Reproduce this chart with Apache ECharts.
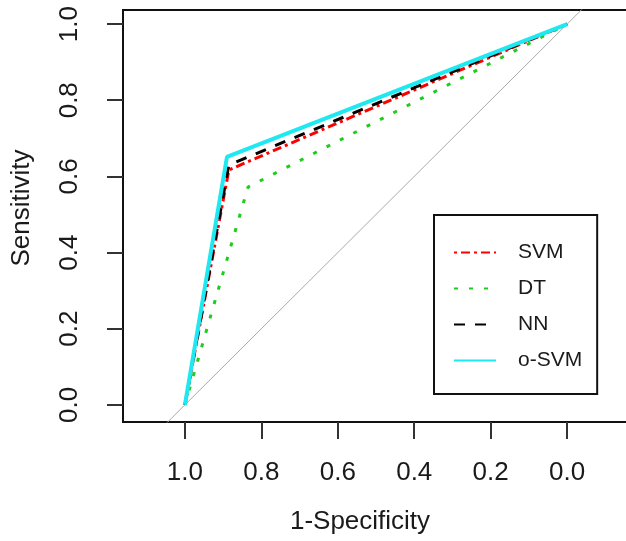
<!DOCTYPE html>
<html>
<head>
<meta charset="utf-8">
<script src="https://cdn.jsdelivr.net/npm/echarts@6/dist/echarts.min.js"></script>
<style>
html,body{margin:0;padding:0;background:#fff;}
#chart{width:626px;height:541px;}
</style>
</head>
<body>
<div id="chart"></div>
<script>
// Tick values
const tickValues = [0, 0.2, 0.4, 0.6, 0.8, 1.0];

// ROC curves: x = specificity (axis reversed), y = sensitivity
const svmSpec  = [1.0, 0.885, 0.0];
const svmSens  = [0.0, 0.617, 1.0];
const dtSpec   = [1.0, 0.835, 0.0];
const dtSens   = [0.0, 0.572, 1.0];
const nnSpec   = [1.0, 0.885, 0.0];
const nnSens   = [0.0, 0.630, 1.0];
const osvmSpec = [1.0, 0.890, 0.0];
const osvmSens = [0.0, 0.651, 1.0];

// Chance diagonal (sens = 1 - spec), clipped to the plot area
const diagSpec = [1.3, -0.3];
const diagSens = [-0.3, 1.3];

const seriesNames = ['SVM', 'DT', 'NN', 'o-SVM'];
const seriesColors = ['#ff0000', '#1ecc1e', '#000000', '#1ee8f0'];

function zip(xs, ys) { return xs.map((x, i) => [x, ys[i]]); }

const chart = echarts.init(document.getElementById('chart'), null, {renderer: 'canvas'});
const font = 'Liberation Sans, Arial, sans-serif';

chart.setOption({
  animation: false,
  backgroundColor: '#fff',
  grid: {
    left: 123, top: 10, width: 512, height: 412,
    outerBoundsMode: 'none', containLabel: false,
    show: true, borderColor: '#111', borderWidth: 2, backgroundColor: 'transparent'
  },
  legend: {
    data: seriesNames,
    orient: 'vertical',
    left: 434, top: 215,
    padding: [27, 15, 23, 19],
    itemWidth: 42, itemHeight: 14, itemGap: 15,
    borderColor: '#111', borderWidth: 2,
    backgroundColor: '#fff',
    selectedMode: false,
    itemStyle: {opacity: 0},
    textStyle: {fontFamily: font, fontSize: 21, color: '#1a1a1a', padding: [0, 0, 0, 17]}
  },
  xAxis: {
    type: 'value', inverse: true, min: -0.1776, max: 1.162,
    name: '1-Specificity', nameLocation: 'middle', nameGap: 87,
    nameTextStyle: {fontFamily: font, fontSize: 26, color: '#1a1a1a', padding: [0, 38, 0, 0]},
    axisLine: {show: false, onZero: false},
    axisTick: {show: true, inside: false, length: 17, customValues: tickValues, lineStyle: {color: '#333', width: 2}},
    axisLabel: {customValues: tickValues, margin: 38, fontFamily: font, fontSize: 26, color: '#1a1a1a',
      formatter: v => v.toFixed(1)},
    splitLine: {show: false}
  },
  yAxis: {
    type: 'value', min: -0.045, max: 1.037,
    name: 'Sensitivity', nameLocation: 'middle', nameGap: 88,
    nameTextStyle: {fontFamily: font, fontSize: 26, color: '#1a1a1a', padding: [0, 0, 0, 16]},
    axisLine: {show: false, onZero: false},
    axisTick: {show: true, inside: false, length: 16, customValues: tickValues, lineStyle: {color: '#333', width: 2}},
    axisLabel: {customValues: tickValues, rotate: 90, margin: 40, fontFamily: font, fontSize: 26, color: '#1a1a1a',
      formatter: v => v.toFixed(1)},
    splitLine: {show: false}
  },
  series: [
    {name: 'diag', type: 'line', data: zip(diagSpec, diagSens), symbol: 'none', clip: true,
      color: '#aaaaaa', lineStyle: {color: '#aaaaaa', width: 1}, silent: true},
    {name: 'SVM', type: 'line', data: zip(svmSpec, svmSens), symbol: 'none', clip: true,
      color: seriesColors[0], lineStyle: {color: seriesColors[0], width: 3, type: [3, 4, 9, 4]}},
    {name: 'DT', type: 'line', data: zip(dtSpec, dtSens), symbol: 'none', clip: true,
      color: seriesColors[1], lineStyle: {color: seriesColors[1], width: 3, type: [4, 11]}},
    {name: 'NN', type: 'line', data: zip(nnSpec, nnSens), symbol: 'none', clip: true,
      color: seriesColors[2], lineStyle: {color: seriesColors[2], width: 3, type: [11, 10]}},
    {name: 'o-SVM', type: 'line', data: zip(osvmSpec, osvmSens), symbol: 'none', clip: true,
      color: seriesColors[3], lineStyle: {color: seriesColors[3], width: 4, type: 'solid'}}
  ]
});
</script>
</body>
</html>
